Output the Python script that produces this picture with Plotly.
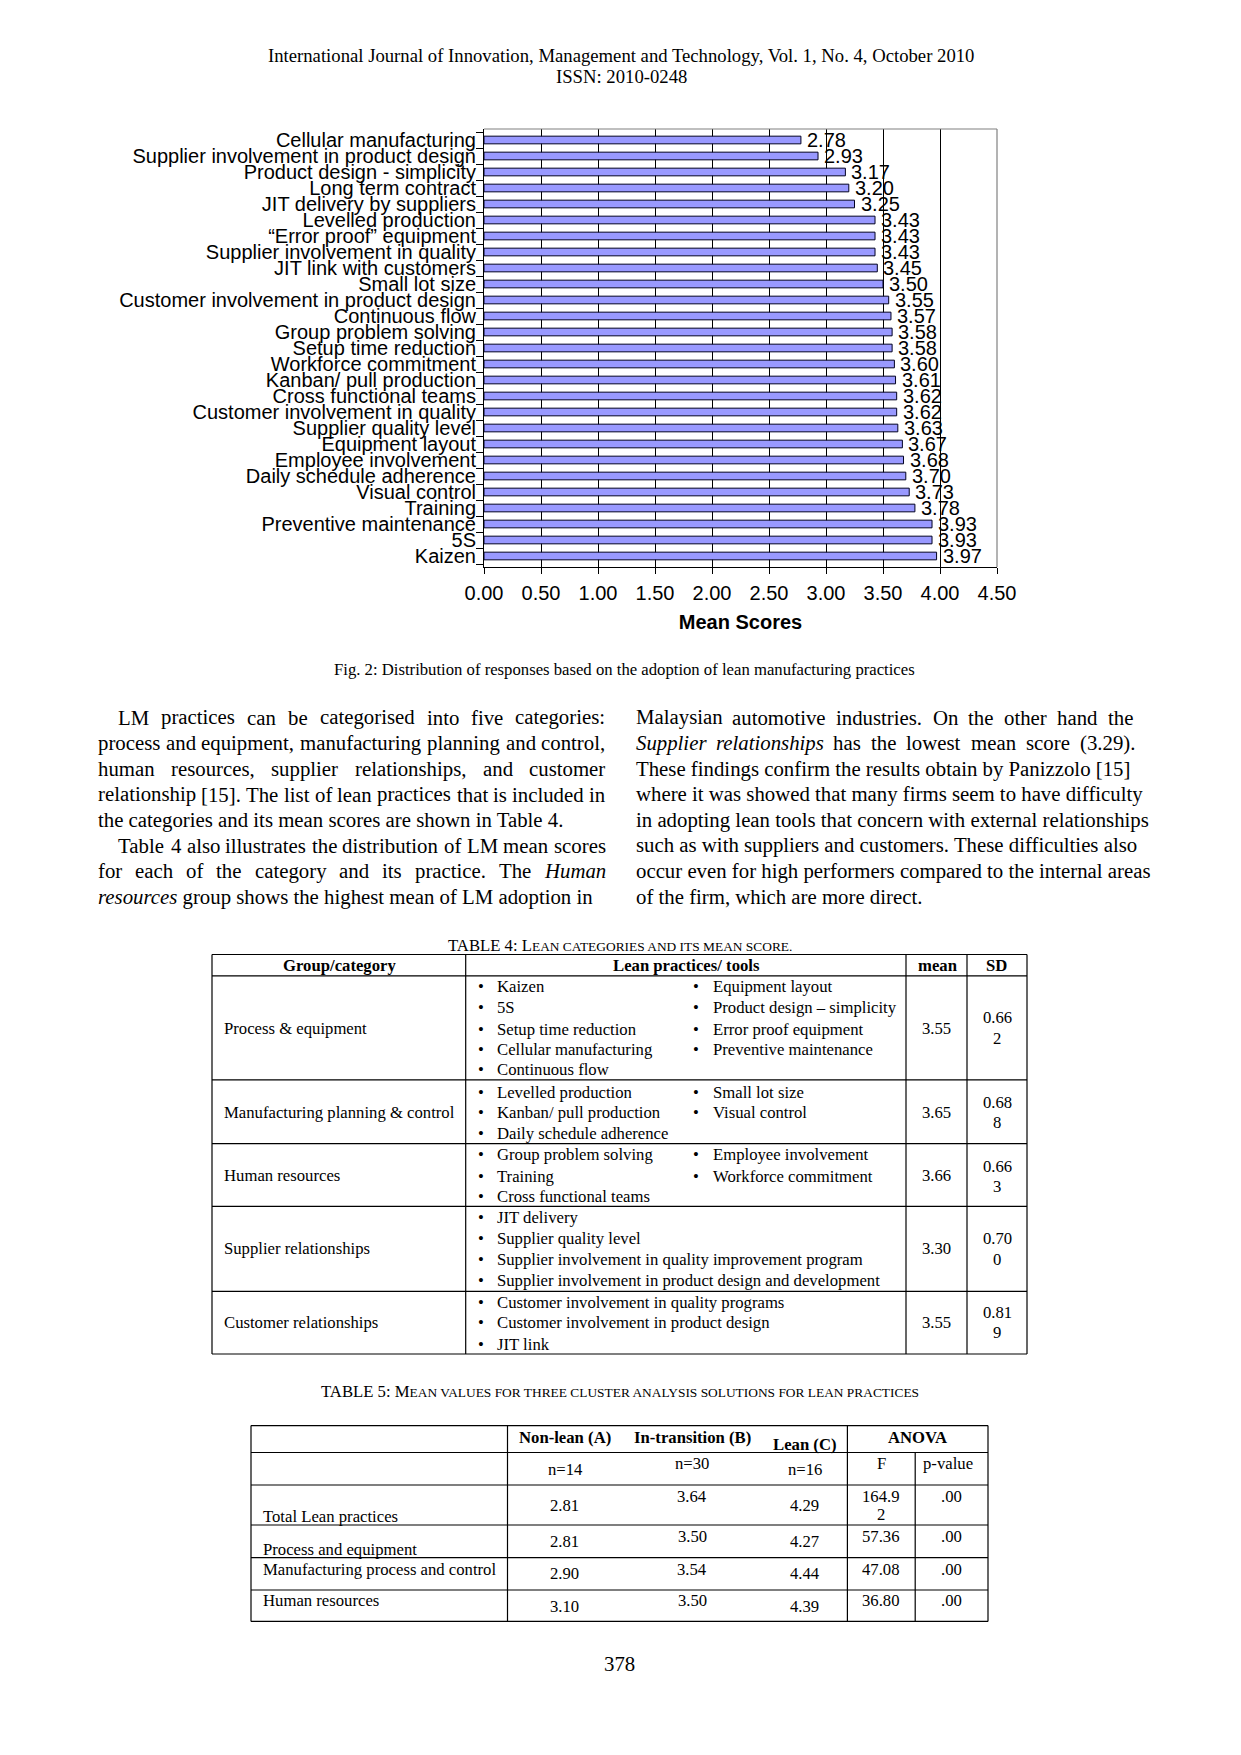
import plotly.graph_objects as go

# ---------------- data ----------------
categories = [
    "Cellular manufacturing", "Supplier involvement in product design",
    "Product design - simplicity", "Long term contract", "JIT delivery by suppliers",
    "Levelled production", "\u201cError proof\u201d equipment", "Supplier involvement in quality",
    "JIT link with customers", "Small lot size", "Customer involvement in product design",
    "Continuous flow", "Group problem solving", "Setup time reduction",
    "Workforce commitment", "Kanban/ pull production", "Cross functional teams",
    "Customer involvement in quality", "Supplier quality level", "Equipment layout",
    "Employee involvement", "Daily schedule adherence", "Visual control", "Training",
    "Preventive maintenance", "5S", "Kaizen",
]
mean_scores = [2.78, 2.93, 3.17, 3.20, 3.25, 3.43, 3.43, 3.43, 3.45, 3.50, 3.55, 3.57,
               3.58, 3.58, 3.60, 3.61, 3.62, 3.62, 3.63, 3.67, 3.68, 3.70, 3.73, 3.78,
               3.93, 3.93, 3.97]
x_ticks = [0.0, 0.5, 1.0, 1.5, 2.0, 2.5, 3.0, 3.5, 4.0, 4.5]
x_title = "Mean Scores"

header_lines = ["International Journal of Innovation, Management and Technology, Vol. 1, No. 4, October 2010",
                "ISSN: 2010-0248"]
caption = "Fig. 2: Distribution of responses based on the adoption of lean manufacturing practices"

left_col = [
    "LM practices can be categorised into five categories:",
    "process and equipment, manufacturing planning and control,",
    "human resources, supplier relationships, and customer",
    "relationship [15]. The list of lean practices that is included in",
    "the categories and its mean scores are shown in Table 4.",
    "Table 4 also illustrates the distribution of LM mean scores",
    "for each of the category and its practice. The _Human",
    "_resources group shows the highest mean of LM adoption in",
]
right_col = [
    "Malaysian automotive industries. On the other hand the",
    "_Supplier _relationships has the lowest mean score (3.29).",
    "These findings confirm the results obtain by Panizzolo [15]",
    "where it was showed that many firms seem to have difficulty",
    "in adopting lean tools that concern with external relationships",
    "such as with suppliers and customers. These difficulties also",
    "occur even for high performers compared to the internal areas",
    "of the firm, which are more direct.",
]

t4_title = ("TABLE 4: L", "EAN CATEGORIES AND ITS MEAN SCORE.")
t4_headers = ["Group/category", "Lean practices/ tools", "mean", "SD"]
t4_groups = ["Process & equipment", "Manufacturing planning & control", "Human resources",
             "Supplier relationships", "Customer relationships"]
t4_left = [
    ["Kaizen", "5S", "Setup time reduction", "Cellular manufacturing", "Continuous flow"],
    ["Levelled production", "Kanban/ pull production", "Daily schedule adherence"],
    ["Group problem solving", "Training", "Cross functional teams"],
    ["JIT delivery", "Supplier quality level",
     "Supplier involvement in quality improvement program",
     "Supplier involvement in product design and development"],
    ["Customer involvement in quality programs", "Customer involvement in product design", "JIT link"],
]
t4_right = [
    ["Equipment layout", "Product design \u2013 simplicity", "Error proof equipment", "Preventive maintenance"],
    ["Small lot size", "Visual control"],
    ["Employee involvement", "Workforce commitment"],
    [], [],
]
t4_mean = ["3.55", "3.65", "3.66", "3.30", "3.55"]
t4_sd = [("0.66", "2"), ("0.68", "8"), ("0.66", "3"), ("0.70", "0"), ("0.81", "9")]

t5_title = ("TABLE 5: M", "EAN VALUES FOR THREE CLUSTER ANALYSIS SOLUTIONS FOR LEAN PRACTICES")
t5_headers = ["Non-lean (A)", "In-transition (B)", "Lean (C)", "ANOVA"]
t5_sub = ["n=14", "n=30", "n=16", "F", "p-value"]
t5_rows = ["Total Lean practices", "Process and equipment",
           "Manufacturing process and control", "Human resources"]
t5_nonlean = ["2.81", "2.81", "2.90", "3.10"]
t5_intrans = ["3.64", "3.50", "3.54", "3.50"]
t5_lean = ["4.29", "4.27", "4.44", "4.39"]
t5_F = [("164.9", "2"), ("57.36", ""), ("47.08", ""), ("36.80", "")]
t5_p = [".00", ".00", ".00", ".00"]
page_number = "378"

# ---------------- geometry helpers ----------------
W, H = 1241, 1755
PL, PR, PT, PB = 484, 997, 129, 567
PW, PH = PR - PL, PB - PT
SERIF = "Liberation Serif, Times New Roman, serif"
SANS = "Liberation Sans, Arial, sans-serif"


def X(px):
    return (px - PL) / PW


def Y(py):
    return (PB - py) / PH


TW = {' ': 250, 'a': 444, 'b': 500, 'c': 444, 'd': 500, 'e': 444, 'f': 333, 'g': 500, 'h': 500,
      'i': 278, 'j': 278, 'k': 500, 'l': 278, 'm': 778, 'n': 500, 'o': 500, 'p': 500, 'q': 500,
      'r': 333, 's': 389, 't': 278, 'u': 500, 'v': 500, 'w': 722, 'x': 500, 'y': 500, 'z': 444,
      'A': 722, 'B': 667, 'C': 667, 'D': 722, 'E': 611, 'F': 556, 'G': 722, 'H': 722, 'I': 333,
      'J': 389, 'K': 722, 'L': 611, 'M': 889, 'N': 722, 'O': 722, 'P': 556, 'Q': 722, 'R': 667,
      'S': 556, 'T': 611, 'U': 722, 'V': 722, 'W': 944, 'X': 722, 'Y': 722, 'Z': 611,
      '.': 250, ',': 250, ':': 278, ';': 278, '[': 333, ']': 333, '(': 333, ')': 333, '-': 333}


def tw(s, size):
    return sum(TW.get(c, 500) for c in s) / 1000.0 * size


annotations = []
shapes = []


def ann(px, py, text, size, family=SERIF, xanchor="left"):
    annotations.append(dict(x=X(px), y=Y(py), xref="paper", yref="paper", text=text,
                            showarrow=False, xanchor=xanchor, yanchor="middle",
                            font=dict(size=size, family=family, color="black"),
                            borderpad=0, borderwidth=0))


def line(x0, y0, x1, y1, color="black", width=1.2):
    shapes.append(dict(type="line", xref="paper", yref="paper", x0=X(x0), y0=Y(y0),
                       x1=X(x1), y1=Y(y1), line=dict(color=color, width=width), layer="above"))


def fmt_word(w):
    return ("<i>" + w[1:] + "</i>") if w.startswith("_") else w


def place_line(text, x0, y, size, target=None):
    words = text.split(" ")
    if target is None:
        ann(x0, y, " ".join(fmt_word(w) for w in words), size)
        return
    widths = [tw(w.lstrip("_"), size) for w in words]
    gap = (target - x0 - sum(widths)) / (len(words) - 1)
    x = x0
    for w, wd in zip(words, widths):
        ann(x, y, fmt_word(w), size)
        x += wd + gap


# ---------------- chart ----------------
fig = go.Figure(go.Bar(
    x=mean_scores, y=categories, orientation="h", width=0.48,
    marker=dict(color="#9999FF", line=dict(color="#000022", width=1)),
    textposition="none", hoverinfo="x+y",
))

# value labels, placed through the data scales
for v, c in zip(mean_scores, categories):
    annotations.append(dict(x=v, y=c, xref="x", yref="y", text=f"{v:.2f}", showarrow=False,
                            xanchor="left", yanchor="middle", xshift=6, yshift=0,
                            font=dict(family=SANS, size=20, color="black"),
                            borderpad=0, borderwidth=0))

fig.update_layout(
    width=W, height=H, margin=dict(l=PL, r=W - PR, t=PT, b=H - PB, pad=0),
    paper_bgcolor="white", plot_bgcolor="white", showlegend=False,
    xaxis=dict(range=[0, 4.5], tickvals=x_ticks, tickformat=".2f", showgrid=True,
               gridcolor="black", gridwidth=1, zeroline=False, showline=True,
               linecolor="black", linewidth=1, ticks="outside", ticklen=6, tickcolor="black",
               tickfont=dict(family=SANS, size=20, color="black"), ticklabelstandoff=2,
               title=dict(text="<b>" + x_title + "</b>", standoff=11,
                          font=dict(family=SANS, size=20, color="black"))),
    yaxis=dict(type="category", categoryorder="array", categoryarray=categories,
               tickmode="array", tickvals=categories, ticktext=categories,
               autorange="reversed", showgrid=False, showline=True, linecolor="black",
               linewidth=1, ticks="outside", ticklen=7, tickcolor="black",
               tickson="boundaries", ticklabelstandoff=3,
               tickfont=dict(family=SANS, size=20, color="black")),
)

# gray frame (top and right)
line(PL, PT, PR, PT, color="#808080", width=1.2)
line(PR, PT, PR, PB, color="#808080", width=1.2)

# ---------------- page text ----------------
ann(621, 55, header_lines[0], 18.7, xanchor="center")
ann(621, 77, header_lines[1], 18.7, xanchor="center")
ann(624, 669, caption, 16.7, xanchor="center")

BODY = 20.8
body_y0, body_dy = 717.3, 25.6
left_x, left_r, indent_x = 97.6, 605.5, 118
left_just = [True, True, True, True, False, True, True, False]
left_start = [indent_x, left_x, left_x, left_x, left_x, indent_x, left_x, left_x]
for i, txt in enumerate(left_col):
    place_line(txt, left_start[i], body_y0 + i * body_dy, BODY, left_r if left_just[i] else None)

right_x = 635.5
right_targets = [1133, 1135.5, None, None, None, None, None, None]
for i, txt in enumerate(right_col):
    place_line(txt, right_x, body_y0 + i * body_dy, BODY, right_targets[i])

# ---------------- table 4 ----------------
TS = 16.7
ann(620, 945.5, t4_title[0] + "<span style='font-size:13.4px'>" + t4_title[1] + "</span>",
    TS, xanchor="center")
t4_cols = [212, 465.7, 906, 967, 1027]
t4_rows = [954.5, 975.8, 1079.8, 1143.6, 1206.3, 1291.3, 1354]
for yy in t4_rows:
    line(t4_cols[0], yy, t4_cols[-1], yy)
for xx in t4_cols:
    line(xx, t4_rows[0], xx, t4_rows[-1])
hdr_x = [339, 686, 938, 996.5]
for hx, ht in zip(hdr_x, t4_headers):
    ann(hx, 965.7, "<b>" + ht + "</b>", TS, xanchor="center")

t4_line_y = [[987, 1008, 1029.5, 1049.6, 1069.8],
             [1092, 1112, 1133.5],
             [1154.8, 1176, 1196],
             [1217.5, 1238.7, 1259, 1280],
             [1302.5, 1322.7, 1344]]
t4_label_y = [1028, 1112, 1175, 1248.8, 1322.7]
t4_sd_y = [(1018, 1038.4), (1102, 1122.4), (1166, 1186), (1238.7, 1259), (1312.6, 1332.7)]
for r in range(5):
    ann(224, t4_label_y[r], t4_groups[r], TS)
    for k, item in enumerate(t4_left[r]):
        ann(478, t4_line_y[r][k], "\u2022", TS)
        ann(497, t4_line_y[r][k], item, TS)
    for k, item in enumerate(t4_right[r]):
        ann(693, t4_line_y[r][k], "\u2022", TS)
        ann(712.5, t4_line_y[r][k], item, TS)
    ann(936.5, t4_label_y[r], t4_mean[r], TS, xanchor="center")
    ann(997, t4_sd_y[r][0], t4_sd[r][0], TS, xanchor="center")
    ann(997, t4_sd_y[r][1], t4_sd[r][1], TS, xanchor="center")

# ---------------- table 5 ----------------
ann(620, 1391, t5_title[0] + "<span style='font-size:13.4px'>" + t5_title[1] + "</span>",
    TS, xanchor="center")
t5_left, t5_right = 251, 988
t5_v = [507.5, 847.4]
t5_split = 915.2
t5_rows_y = [1425.6, 1452.5, 1485, 1525, 1557.6, 1590, 1621.4]
for yy in t5_rows_y:
    line(t5_left, yy, t5_right, yy)
for xx in [t5_left, t5_v[0], t5_v[1], t5_right]:
    line(xx, t5_rows_y[0], xx, t5_rows_y[-1])
line(t5_split, t5_rows_y[1], t5_split, t5_rows_y[-1])

col_x = [565, 692, 804.7, 917.7]
hdr_y = [1437, 1437, 1444.6, 1437]
for cx, cy, ht in zip(col_x, hdr_y, t5_headers):
    ann(cx, cy, "<b>" + ht + "</b>", TS, xanchor="center")
sub_x = [565, 692, 804.7, 881, 948]
sub_y = [1469, 1463.7, 1469, 1463.7, 1463.7]
for sx, sy, st in zip(sub_x, sub_y, t5_sub):
    ann(sx, sy, st, TS, xanchor="center")

row_label_y = [1516, 1549, 1569, 1600]
row_top_y = [1496, 1536, 1569, 1600]
row_mid_y = [1505, 1541, 1573, 1606]
for r in range(4):
    ann(263, row_label_y[r], t5_rows[r], TS)
    ann(564, row_mid_y[r], t5_nonlean[r], TS, xanchor="center")
    ann(692, row_top_y[r], t5_intrans[r], TS, xanchor="center")
    ann(804.7, row_mid_y[r], t5_lean[r], TS, xanchor="center")
    ann(881, row_top_y[r], t5_F[r][0], TS, xanchor="center")
    if t5_F[r][1]:
        ann(881, row_top_y[r] + 18, t5_F[r][1], TS, xanchor="center")
    ann(951.6, row_top_y[r], t5_p[r], TS, xanchor="center")

ann(619, 1663, page_number, 20.8, xanchor="center")

fig.update_layout(annotations=annotations, shapes=shapes)
fig.write_html("out.html")
